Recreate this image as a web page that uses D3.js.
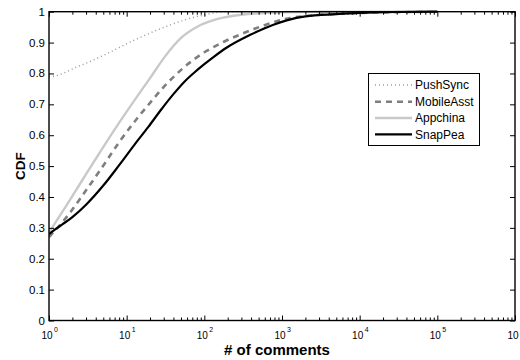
<!DOCTYPE html>
<html><head><meta charset="utf-8">
<script src="https://cdn.jsdelivr.net/npm/d3@7"></script>
<style>
html,body{margin:0;padding:0;background:#fff;}
text{font-family:"Liberation Sans",Arial,Helvetica,sans-serif;fill:#000;}
</style></head>
<body><svg id="c" width="520" height="360"></svg>
<script>
// ---- data ----
const seriesNames = ["PushSync","MobileAsst","Appchina","SnapPea"];
const pushSyncX = [1, 1.03, 2.39, 5.27, 11.6, 25.6, 56.6, 102, 186, 1000, 1e4, 1e5];
const pushSyncY = [0.79, 0.79, 0.823, 0.861, 0.904, 0.942, 0.974, 0.99, 1.0, 1.0, 1.0, 1.0];
const mobileAsstX = [1, 1.81, 2.97, 4.86, 7.98, 13.7, 20, 29.7, 53.7, 107, 176, 316, 575, 1047, 3162, 1e4, 1e5];
const mobileAsstY = [0.27, 0.345, 0.42, 0.497, 0.577, 0.655, 0.705, 0.755, 0.818, 0.873, 0.902, 0.93, 0.955, 0.975, 0.99, 0.996, 1.0];
const appchinaX = [1, 1.64, 2.69, 4.4, 7.23, 11.9, 20, 31.6, 50.1, 83.2, 141, 300, 1000, 3162, 1e5];
const appchinaY = [0.285, 0.369, 0.455, 0.54, 0.624, 0.704, 0.785, 0.857, 0.915, 0.953, 0.975, 0.99, 0.998, 1.0, 1.0];
const snapPeaX = [1, 1.2, 1.5, 2, 3, 5, 8, 12.5, 19, 28.2, 40, 56.2, 72, 100, 131, 195, 390, 776, 1150, 2000, 5000, 1e4, 3e4, 1e5];
const snapPeaY = [0.28, 0.295, 0.312, 0.335, 0.375, 0.437, 0.503, 0.568, 0.627, 0.685, 0.733, 0.775, 0.8, 0.83, 0.853, 0.884, 0.925, 0.958, 0.972, 0.985, 0.992, 0.996, 0.999, 1.0];
const xTickValues = [1, 10, 100, 1000, 10000, 100000, 1000000];
const xTickExponents = ["0","1","2","3","4","5","6"];
const yTickValues = [0, 0.1, 0.2, 0.3, 0.4, 0.5, 0.6, 0.7, 0.8, 0.9, 1];
const yTickLabels = ["0","0.1","0.2","0.3","0.4","0.5","0.6","0.7","0.8","0.9","1"];
const xLabel = "# of comments";
const yLabel = "CDF";

// ---- layout ----
const L = 49, R = 515, T = 11.7, B = 320.5;
const svg = d3.select("#c");
const x = d3.scaleLog().domain([1, 1e6]).range([L, R]);
const y = d3.scaleLinear().domain([0, 1]).range([B, T]);

svg.append("defs").append("clipPath").attr("id","clip")
  .append("rect").attr("x",L).attr("y",T-2).attr("width",R-L).attr("height",B-T+2);

const styles = [
  {color:"#9a9a9a", width:1.5, dash:"1,3"},
  {color:"#7f7f7f", width:2.6, dash:"6,5"},
  {color:"#c9c9c9", width:2.4, dash:null},
  {color:"#000000", width:2.2, dash:null}
];
const xs = [pushSyncX, mobileAsstX, appchinaX, snapPeaX];
const ys = [pushSyncY, mobileAsstY, appchinaY, snapPeaY];

const line = d3.line().x(d=>x(d[0])).y(d=>y(d[1])).curve(d3.curveMonotoneX);
const g = svg.append("g").attr("clip-path","url(#clip)");
xs.forEach((xv,i)=>{
  const pts = xv.map((v,j)=>[v, ys[i][j]]);
  const p = g.append("path").datum(pts).attr("d",line)
    .attr("fill","none").attr("stroke",styles[i].color)
    .attr("stroke-width",styles[i].width).attr("stroke-linejoin","round");
  if (styles[i].dash) p.attr("stroke-dasharray",styles[i].dash);
});

// ---- axes (MATLAB style, ticks inside, box) ----
const minor = [];
for (let e=0;e<6;e++) for (let k=2;k<=9;k++) minor.push(k*Math.pow(10,e));

const axB = svg.append("g").attr("transform",`translate(0,${B})`)
  .call(d3.axisBottom(x).tickValues(xTickValues).tickSize(-5).tickFormat(""));
const axBm = svg.append("g").attr("transform",`translate(0,${B})`)
  .call(d3.axisBottom(x).tickValues(minor).tickSize(-3).tickFormat(""));
const axT = svg.append("g").attr("transform",`translate(0,${T})`)
  .call(d3.axisTop(x).tickValues(xTickValues).tickSize(-5).tickFormat(""));
const axTm = svg.append("g").attr("transform",`translate(0,${T})`)
  .call(d3.axisTop(x).tickValues(minor).tickSize(-3).tickFormat(""));
const axL = svg.append("g").attr("transform",`translate(${L},0)`)
  .call(d3.axisLeft(y).tickValues(yTickValues).tickSize(-5).tickFormat(""));
const axR = svg.append("g").attr("transform",`translate(${R},0)`)
  .call(d3.axisRight(y).tickValues(yTickValues).tickSize(-5).tickFormat(""));
[axB,axBm,axT,axTm,axL,axR].forEach(a=>{
  a.select(".domain").remove();
  a.selectAll("line").attr("stroke","#000").attr("stroke-width",1);
});
svg.append("rect").attr("x",L).attr("y",T).attr("width",R-L).attr("height",B-T)
  .attr("fill","none").attr("stroke","#000").attr("stroke-width",1.4);

// y tick labels
svg.append("g").selectAll("text").data(yTickValues).join("text")
  .attr("x",L-4).attr("y",d=>y(d)+4).attr("text-anchor","end")
  .attr("font-size","11.5px").text((d,i)=>yTickLabels[i]);

// x tick labels 10^n
const xl = svg.append("g").selectAll("g").data(xTickValues).join("g")
  .attr("transform",d=>`translate(${x(d)},0)`);
xl.append("text").attr("x",-2).attr("y",339).attr("text-anchor","middle")
  .attr("font-size","10px").text("10");
xl.append("text").attr("x",5).attr("y",332).attr("text-anchor","start")
  .attr("font-size","7px").text((d,i)=>xTickExponents[i]);

// axis labels
svg.append("text").attr("x",277).attr("y",355).attr("text-anchor","middle")
  .attr("font-size","15px").attr("font-weight","bold").text(xLabel);
svg.append("text").attr("transform",`translate(25,166) rotate(-90)`)
  .attr("text-anchor","middle").attr("font-size","13.5px").attr("font-weight","bold").text(yLabel);

// ---- legend ----
const lg = svg.append("g");
lg.append("rect").attr("x",368.5).attr("y",73.5).attr("width",111).attr("height",72)
  .attr("fill","#fff").attr("stroke","#000").attr("stroke-width",1);
const legY = [85, 101.7, 118, 134.3];
seriesNames.forEach((n,i)=>{
  const ln = lg.append("line").attr("x1",375).attr("x2",412).attr("y1",legY[i]).attr("y2",legY[i])
    .attr("stroke",styles[i].color).attr("stroke-width",styles[i].width);
  if (styles[i].dash) ln.attr("stroke-dasharray",styles[i].dash);
  lg.append("text").attr("x",415).attr("y",legY[i]+4.2).attr("font-size","12px").text(n);
});
</script></body></html>
